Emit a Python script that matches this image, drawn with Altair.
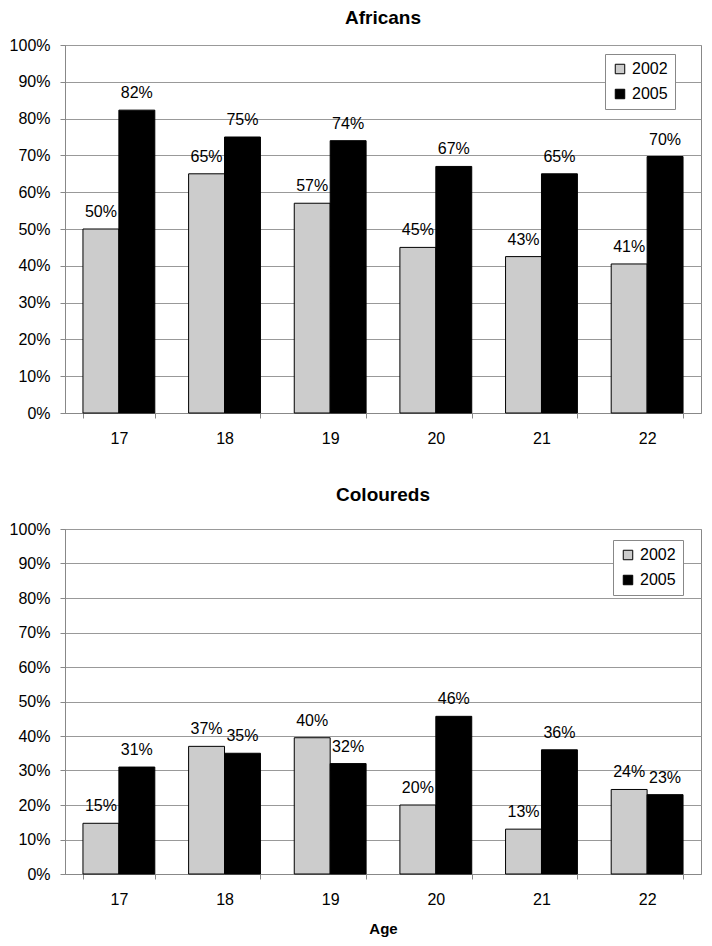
import altair as alt
import pandas as pd

ages = ["17", "18", "19", "20", "21", "22"]
years = ["2002", "2005"]

afr_2002 = [50, 65, 57, 45, 42.5, 40.5]
afr_2005 = [82.3, 75, 74, 67, 65, 69.7]
afr_lbl_2002 = ["50%", "65%", "57%", "45%", "43%", "41%"]
afr_lbl_2005 = ["82%", "75%", "74%", "67%", "65%", "70%"]

col_2002 = [14.7, 37, 39.5, 20, 13, 24.5]
col_2005 = [31, 35, 32, 45.7, 36, 23]
col_lbl_2002 = ["15%", "37%", "40%", "20%", "13%", "24%"]
col_lbl_2005 = ["31%", "35%", "32%", "46%", "36%", "23%"]

FONT = "Liberation Sans"


def make_df(v02, v05, l02, l05):
    rows = []
    for i, a in enumerate(ages):
        rows.append({"age": a, "year": "2002", "value": v02[i], "label": l02[i]})
        rows.append({"age": a, "year": "2005", "value": v05[i], "label": l05[i]})
    return pd.DataFrame(rows)


def panel(df, title, show_xtitle, lx, ly, h, toff, tdy):
    x = alt.X("age:N", sort=ages,
              scale=alt.Scale(paddingInner=0.32, paddingOuter=0.17),
              axis=alt.Axis(title="Age" if show_xtitle else None, labelAngle=0,
                            tickBand="extent", tickSize=5, labelPadding=12,
                            titlePadding=14, titleFontSize=15, titleFontWeight="bold"))
    y = alt.Y("value:Q", scale=alt.Scale(domain=[0, 100], nice=False),
              axis=alt.Axis(title=None, values=list(range(0, 101, 10)),
                            labelExpr="datum.value + '%'", tickSize=5, labelPadding=10,
                            labelOverlap=False))
    color = alt.Color("year:N", sort=years,
                      scale=alt.Scale(domain=years, range=["#cccccc", "#000000"]),
                      legend=alt.Legend(title=None, orient="none", legendX=lx, legendY=ly,
                                        symbolType="square", symbolSize=90,
                                        symbolStrokeColor="black", symbolStrokeWidth=1,
                                        labelFontSize=16, labelFont=FONT,
                                        fillColor="white", strokeColor="#888888",
                                        padding=7, rowPadding=9, labelOffset=4))
    base = alt.Chart(df).encode(x=x, xOffset=alt.XOffset("year:N", sort=years), y=y)
    bars = base.mark_bar(stroke="black", strokeWidth=1).encode(color=color)
    text = base.mark_text(baseline="alphabetic", dy=-12, fontSize=16, font=FONT,
                          color="black").encode(text="label:N")
    return alt.layer(bars, text).properties(
        width=636, height=h,
        title=alt.TitleParams(title, fontSize=19, fontWeight="bold", font=FONT,
                              anchor="middle", offset=toff, dy=tdy))


top = panel(make_df(afr_2002, afr_2005, afr_lbl_2002, afr_lbl_2005),
            "Africans", False, 540, 9, 368, 6, -3)
bottom = panel(make_df(col_2002, col_2005, col_lbl_2002, col_lbl_2005),
               "Coloureds", True, 548, 11, 345, 16, 0)

chart = alt.vconcat(top, bottom, spacing=38).resolve_legend(color="independent").properties(
    padding=0
).configure(
    font=FONT
).configure_view(
    stroke="#888888", strokeWidth=1
).configure_axis(
    labelFont=FONT, labelFontSize=16, labelColor="black",
    domainColor="#888888", tickColor="#888888", gridColor="#999999",
    titleFont=FONT, titleColor="black"
).configure_axisX(grid=False).configure_axisY(grid=True)

chart.save("out.html", embed_options={"renderer": "svg", "actions": False})
